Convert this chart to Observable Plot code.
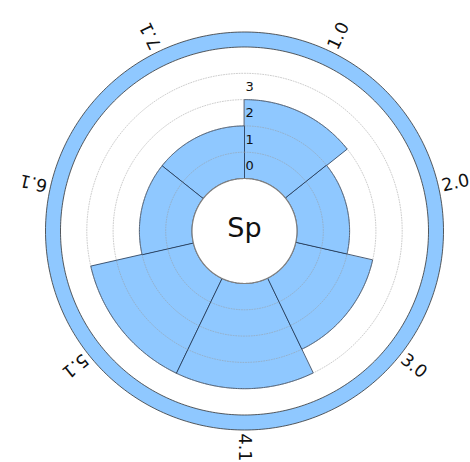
<!DOCTYPE html>
<html><head><meta charset="utf-8">
<script src="https://cdn.jsdelivr.net/npm/d3@7"></script>
<script src="https://cdn.jsdelivr.net/npm/@observablehq/plot@0.6"></script>
<style>html,body{margin:0;padding:0;background:#fff;} #chart svg{display:block;}</style>
</head><body><div id="chart"></div>
<script>
// ---- data ----
const categories = ["1.0", "2.0", "3.0", "4.1", "5.1", "6.1", "7.1"];
const values = [3, 2, 3, 4, 4, 2, 2];
const radialTicks = [0, 1, 2, 3];
const gridValues = [1, 2, 3, 4];
const centerLabel = "Sp";

// ---- layout ----
const W = 470, H = 462;
const cx = 244, cy = 230.5;
const r = d3.scaleLinear().domain([0, 5]).range([52.5, 184]);
const ringInner = 184, ringOuter = 199, labelR = 216.5;
const n = categories.length;
const step = 2 * Math.PI / n;
const barColor = "#8fc8ff";
const toXY = (a, rad) => ({x: rad * Math.sin(a), y: rad * Math.cos(a)});

function circle(rad, id) {
  const pts = [];
  for (let k = 0; k < 360; k++) pts.push({id, ...toXY(k * Math.PI / 180, rad)});
  return pts;
}

const barPts = [];
categories.forEach((c, i) => {
  const a0 = i * step, a1 = (i + 1) * step, N = 60;
  for (let k = 0; k <= N; k++) barPts.push({id: c, ...toXY(a0 + (a1 - a0) * k / N, r(0))});
  for (let k = N; k >= 0; k--) barPts.push({id: c, ...toXY(a0 + (a1 - a0) * k / N, r(values[i]))});
});

const gridPts = gridValues.flatMap(v => circle(r(v), v));
const mid = i => (i + 0.5) * step;

const plot = Plot.plot({
  width: W, height: H, margin: 0,
  x: {domain: [-cx, W - cx], axis: null},
  y: {domain: [cy - H, cy], axis: null},
  style: {fontFamily: "DejaVu Sans", background: "white"},
  marks: [
    Plot.line(circle((ringInner + ringOuter) / 2, "ring"), {x: "x", y: "y", stroke: barColor, strokeWidth: ringOuter - ringInner, curve: "linear-closed"}),
    Plot.line(circle(ringInner, "ri"), {x: "x", y: "y", stroke: "#333", strokeWidth: 0.8, curve: "linear-closed"}),
    Plot.line(circle(ringOuter, "ro"), {x: "x", y: "y", stroke: "#333", strokeWidth: 0.8, curve: "linear-closed"}),
    Plot.line(barPts, {x: "x", y: "y", z: "id", fill: barColor, stroke: "#1e3350", strokeWidth: 0.8, curve: "linear-closed"}),
    Plot.line(gridPts, {x: "x", y: "y", z: "id", stroke: "#999", strokeOpacity: 0.7, strokeWidth: 0.7, strokeDasharray: "1,1.6", curve: "linear-closed"}),
    Plot.line(circle(r(0), "c"), {x: "x", y: "y", fill: "white", stroke: "#808080", strokeWidth: 1.2, curve: "linear-closed"}),
    Plot.text(radialTicks, {x: () => 0, y: d => r(d), text: d => String(d), textAnchor: "start", dx: 1, dy: -12.7, fontSize: 13, fill: "#111"}),
    Plot.text(categories, {
      x: (d, i) => labelR * Math.sin(mid(i)),
      y: (d, i) => labelR * Math.cos(mid(i)),
      text: d => d,
      rotate: (d, i) => mid(i) * 180 / Math.PI - 90,
      fontSize: 17.5, fill: "#111"
    }),
    Plot.text([centerLabel], {x: () => 0, y: () => 0, text: d => d, fontSize: 27, dy: -2.5, fill: "#111"})
  ]
});
document.getElementById("chart").appendChild(plot);
</script>
</body></html>
